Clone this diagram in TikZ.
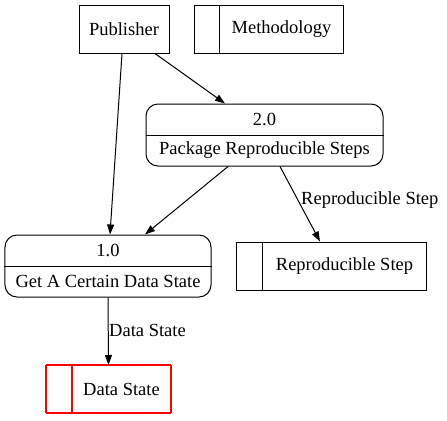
\documentclass[tikz,border=0pt]{standalone}
\usepackage{fontspec}
\setmainfont{Liberation Serif}
\usetikzlibrary{arrows.meta}
\definecolor{dsred}{RGB}{255,0,0}
\begin{document}
\begin{tikzpicture}[x=1bp,y=-1bp,
  font=\fontsize{18.5bp}{21bp}\selectfont,
  box/.style={draw, line width=1bp, inner sep=0pt},
  proc/.style={box, rounded corners=12bp, minimum height=62bp},
  txt/.style={inner sep=0pt},
  redline/.style={line width=1.2bp, draw=dsred},
  flow/.style={line width=1bp, -{Triangle[length=10bp,width=7bp]}}]
\useasboundingbox (0,0) rectangle (447,420);
% external entity
\node[box, minimum width=90bp, minimum height=48bp] (pub) at (124,29) {};
\node[txt] (pubT) at (124,29) {Publisher};
% methodology store
\node[box, minimum width=149bp, minimum height=48bp] (meth) at (268.5,29) {};
\draw[line width=1bp] ([xshift=26bp]meth.north west) -- ([xshift=26bp]meth.south west);
\node[txt] (methT) at (281.5,29) {Methodology};
% process 2.0
\node[proc, minimum width=237bp] (p2) at (264.5,135) {};
\draw[line width=1bp] (p2.west) -- (p2.east);
\node[txt] (p2a) at (264.5,119.5) {2.0};
\node[txt] (p2b) at (264.5,150.5) {Package Reproducible Steps};
% process 1.0
\node[proc, minimum width=206bp] (p1) at (108,266) {};
\draw[line width=1bp] (p1.west) -- (p1.east);
\node[txt] (p1a) at (108,250.5) {1.0};
\node[txt] (p1b) at (108,281.5) {Get A Certain Data State};
% reproducible step store
\node[box, minimum width=190bp, minimum height=48bp] (rs) at (331,266) {};
\draw[line width=1bp] ([xshift=27bp]rs.north west) -- ([xshift=27bp]rs.south west);
\node[txt] (rsT) at (344.5,266) {Reproducible Step};
% data state store
\coordinate (dsNW) at (46,365);
\coordinate (dsNE) at (171,365);
\coordinate (dsSE) at (171,413);
\coordinate (dsSW) at (46,413);
\coordinate (dsN) at (108.5,365);
\draw[redline] (dsNW) -- (dsNE);
\draw[redline] (dsNE) -- (dsSE);
\draw[redline] (dsSE) -- (dsSW);
\draw[redline] (dsSW) -- (dsNW);
\draw[redline] (72,365) -- (72,413);
\node[txt] (dsT) at (121.5,389) {Data State};
% flows
\draw[flow] ([xshift=-2bp]pub.south) -- ([xshift=2bp]p1.north);
\draw[flow] ([xshift=31bp]pub.south) -- ([xshift=-39.5bp]p2.north);
\draw[flow] ([xshift=-36.5bp]p2.south) -- ([xshift=37bp]p1.north);
\draw[flow] ([xshift=15.5bp]p2.south) -- ([xshift=-11bp]rs.north);
\draw[flow] (p1.south) -- (dsN);
\node[txt, anchor=west] (l1) at (301,200) {Reproducible Step};
\node[txt, anchor=west] (l2) at (109,330) {Data State};
\end{tikzpicture}
\end{document}
